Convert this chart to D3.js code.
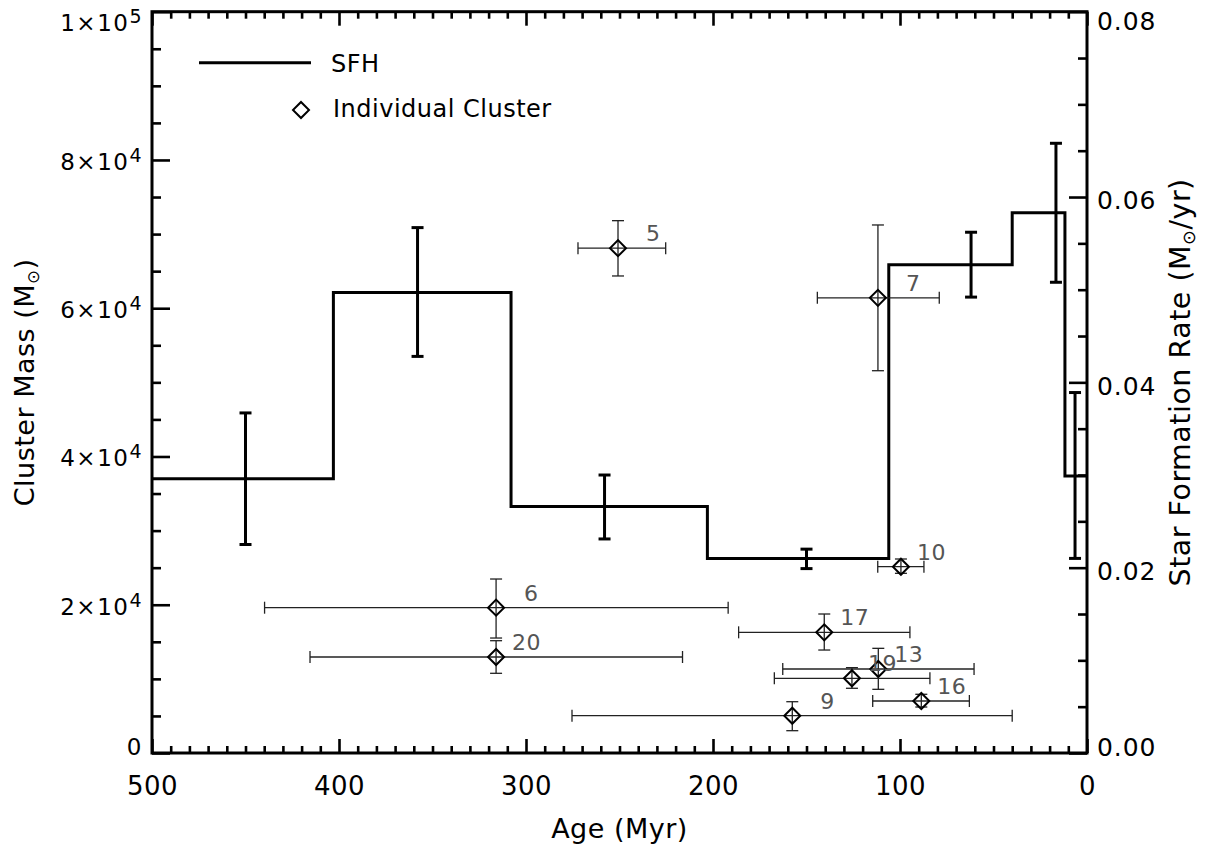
<!DOCTYPE html>
<html>
<head>
<meta charset="utf-8">
<script src="https://cdn.jsdelivr.net/npm/d3@7"></script>
<style>
  body { margin: 0; background: #fff; }
  text { font-family: "DejaVu Sans", sans-serif; fill: #000; }
</style>
</head>
<body>
<svg id="chart" width="1207" height="846"></svg>
<script>
// ---- star formation history (ages in Myr, rates in Msun/yr)
const binEdges = [500, 403, 308, 203, 106, 40, 11.8, 0];
const binSfr   = [0.0296, 0.0497, 0.0266, 0.0210, 0.0527, 0.0583, 0.0299];
const sfrErrAge = [450, 358, 258, 150, 62, 16.6, 6.4];
const sfrErrLo  = [0.0225, 0.0428, 0.0231, 0.0199, 0.0492, 0.0508, 0.0210];
const sfrErrHi  = [0.0367, 0.0567, 0.0300, 0.0220, 0.0562, 0.0658, 0.0389];

// ---- individual clusters
const clusterIds   = [5, 7, 10, 6, 20, 17, 13, 19, 16, 9];
const clusterAge   = [250.8, 111.8, 99.5, 316, 316, 140.5, 111.6, 125.7, 88.6, 157.6];
const clusterAgeLo = [225.3, 79.0, 87.2, 191.9, 216.3, 94.7, 60.4, 84.0, 62.9, 40.0];
const clusterAgeHi = [272.2, 144.2, 111.9, 439.8, 415.5, 186.3, 162.7, 167.2, 114.6, 275.4];
const clusterMass   = [68100, 61400, 25130, 19600, 12950, 16280, 11330, 10080, 7015, 5030];
const clusterMassLo = [64350, 51570, 24240, 15510, 10750, 13890, 8590, 8730, 6205, 3010];
const clusterMassHi = [71810, 71230, 26170, 23470, 15150, 18750, 14120, 11510, 7920, 6920];

// ---- axis ticks
const xMajor = [500, 400, 300, 200, 100, 0];
const massMajor = [0, 20000, 40000, 60000, 80000, 100000];
const sfrMajor = [0, 0.02, 0.04, 0.06, 0.08];

const plotL = 152, plotR = 1087, plotT = 11.7, plotB = 753;

const svg = d3.select("#chart");

const x = d3.scaleLinear().domain([500, 0]).range([plotL, plotR]);
const yMass = d3.scaleLinear().domain([0, 100000]).range([plotB, plotT]);
const ySfr = d3.scaleLinear().domain([0, 0.08]).range([plotB, plotT]);

const xMinor = d3.range(0, 501, 10).filter(v => v % 100 !== 0);
const massMinor = d3.range(0, 100001, 5000).filter(v => v % 20000 !== 0);
const sfrMinor = d3.range(0, 16).map(i => i * 0.005).filter((v, i) => i % 4 !== 0);

function styleTicks(g) {
  g.select(".domain").remove();
  g.selectAll(".tick line").attr("stroke", "#000").attr("stroke-width", 2.6);
}

// bottom axis
svg.append("g").attr("transform", `translate(0,${plotB})`)
  .call(d3.axisBottom(x).tickValues(xMinor).tickSize(-7).tickFormat(""))
  .call(styleTicks);
svg.append("g").attr("transform", `translate(0,${plotB})`)
  .call(d3.axisBottom(x).tickValues(xMajor).tickSize(-14).tickFormat(d3.format("d")))
  .call(styleTicks)
  .call(g => g.selectAll(".tick text")
    .attr("y", 42).attr("dy", 0)
    .attr("font-size", 26).attr("letter-spacing", 0.5));

// top axis
svg.append("g").attr("transform", `translate(0,${plotT})`)
  .call(d3.axisTop(x).tickValues(xMinor).tickSize(-7).tickFormat(""))
  .call(styleTicks);
svg.append("g").attr("transform", `translate(0,${plotT})`)
  .call(d3.axisTop(x).tickValues(xMajor).tickSize(-14).tickFormat(""))
  .call(styleTicks);

// left axis (cluster mass)
svg.append("g").attr("transform", `translate(${plotL},0)`)
  .call(d3.axisLeft(yMass).tickValues(massMinor).tickSize(-9).tickFormat(""))
  .call(styleTicks);
svg.append("g").attr("transform", `translate(${plotL},0)`)
  .call(d3.axisLeft(yMass).tickValues(massMajor).tickSize(-18).tickPadding(9))
  .call(styleTicks)
  .call(g => g.selectAll(".tick text").each(function(d) {
    const t = d3.select(this).text(null)
      .attr("font-size", 23).attr("letter-spacing", 1.5)
      .attr("text-anchor", "end").attr("dy", 0);
    if (d === 0) {
      t.attr("y", 1).text("0");
      return;
    }
    const e = Math.floor(Math.log10(d));
    const m = Math.round(d / Math.pow(10, e));
    t.attr("y", d === 100000 ? 19 : 9.5);
    t.append("tspan").text(m + "\u00d710");
    t.append("tspan").attr("dy", -8).attr("font-size", 19).text(e);
  }));

// right axis (star formation rate)
svg.append("g").attr("transform", `translate(${plotR},0)`)
  .call(d3.axisRight(ySfr).tickValues(sfrMinor).tickSize(-9).tickFormat(""))
  .call(styleTicks);
svg.append("g").attr("transform", `translate(${plotR},0)`)
  .call(d3.axisRight(ySfr).tickValues(sfrMajor).tickSize(-18).tickPadding(10)
    .tickFormat(d3.format(".2f")))
  .call(styleTicks)
  .call(g => g.selectAll(".tick text")
    .attr("font-size", 25).attr("letter-spacing", 0.9).attr("dy", 0)
    .attr("y", d => d === 0 ? 2 : (d === 0.08 ? 18 : 11.8)));

// frame
svg.append("rect")
  .attr("x", plotL).attr("y", plotT)
  .attr("width", plotR - plotL).attr("height", plotB - plotT)
  .attr("fill", "none").attr("stroke", "#000").attr("stroke-width", 3);

// axis titles
svg.append("text")
  .attr("x", (plotL + plotR) / 2).attr("y", 838)
  .attr("text-anchor", "middle").attr("font-size", 27).attr("letter-spacing", 0.5)
  .text("Age (Myr)");

function solarTitle(sel, before, after) {
  sel.append("tspan").text(before);
  sel.append("tspan").attr("font-size", "0.62em").attr("dy", "0.28em").text("\u2299");
  sel.append("tspan").attr("dy", "-0.18em").text(after);
}

svg.append("text")
  .attr("transform", `translate(34,${(plotT + plotB) / 2}) rotate(-90)`)
  .attr("text-anchor", "middle").attr("font-size", 27).attr("letter-spacing", 0.5)
  .call(solarTitle, "Cluster Mass (M", ")");

svg.append("text")
  .attr("transform", `translate(1190,${(plotT + plotB) / 2}) rotate(-90)`)
  .attr("text-anchor", "middle").attr("font-size", 28.5).attr("letter-spacing", 0.5)
  .call(solarTitle, "Star Formation Rate (M", "/yr)");

// ---- SFH step line
const stepPts = binSfr.map((s, i) => [binEdges[i], s]).concat([[0, binSfr[binSfr.length - 1]]]);
const stepLine = d3.line()
  .x(d => x(d[0])).y(d => ySfr(d[1]))
  .curve(d3.curveStepAfter);
svg.append("path")
  .attr("d", stepLine(stepPts))
  .attr("fill", "none").attr("stroke", "#000").attr("stroke-width", 3);

const sfhErr = svg.append("g").attr("stroke", "#000").attr("stroke-width", 3);
sfrErrAge.forEach((a, i) => {
  const cx = x(a);
  sfhErr.append("line").attr("x1", cx).attr("x2", cx)
    .attr("y1", ySfr(sfrErrLo[i])).attr("y2", ySfr(sfrErrHi[i]));
  [sfrErrLo[i], sfrErrHi[i]].forEach(v => {
    sfhErr.append("line").attr("x1", cx - 6).attr("x2", cx + 6)
      .attr("y1", ySfr(v)).attr("y2", ySfr(v));
  });
});

// ---- clusters
const diamond = d3.symbol().type(d3.symbolSquare).size(128);
const cl = svg.append("g");
clusterIds.forEach((id, i) => {
  const cx = x(clusterAge[i]), cy = yMass(clusterMass[i]);
  const g = cl.append("g").attr("stroke", "#222").attr("stroke-width", 1.3);
  // horizontal (age) error
  g.append("line").attr("x1", x(clusterAgeHi[i])).attr("x2", x(clusterAgeLo[i]))
    .attr("y1", cy).attr("y2", cy);
  [clusterAgeHi[i], clusterAgeLo[i]].forEach(v => {
    g.append("line").attr("x1", x(v)).attr("x2", x(v)).attr("y1", cy - 6).attr("y2", cy + 6);
  });
  // vertical (mass) error
  g.append("line").attr("x1", cx).attr("x2", cx)
    .attr("y1", yMass(clusterMassLo[i])).attr("y2", yMass(clusterMassHi[i]));
  [clusterMassLo[i], clusterMassHi[i]].forEach(v => {
    g.append("line").attr("x1", cx - 6).attr("x2", cx + 6).attr("y1", yMass(v)).attr("y2", yMass(v));
  });
  cl.append("path").attr("d", diamond)
    .attr("transform", `translate(${cx},${cy}) rotate(45)`)
    .attr("fill", "none").attr("stroke", "#000").attr("stroke-width", 2);
  const label = String(id);
  cl.append("text")
    .attr("x", cx + 16 + (2 - label.length) * 12).attr("y", cy - 7)
    .attr("font-size", 22).attr("letter-spacing", 0.5)
    .style("fill", "#555")
    .text(label);
});

// ---- legend
svg.append("line").attr("x1", 199).attr("x2", 311).attr("y1", 62.7).attr("y2", 62.7)
  .attr("stroke", "#000").attr("stroke-width", 3);
svg.append("text").attr("x", 331).attr("y", 71.7).attr("font-size", 24).attr("letter-spacing", 0.5)
  .text("SFH");
svg.append("path").attr("d", diamond)
  .attr("transform", "translate(301,110) rotate(45)")
  .attr("fill", "none").attr("stroke", "#000").attr("stroke-width", 2);
svg.append("text").attr("x", 333).attr("y", 116.7).attr("font-size", 24).attr("letter-spacing", 0.5)
  .text("Individual Cluster");
</script>
</body>
</html>
